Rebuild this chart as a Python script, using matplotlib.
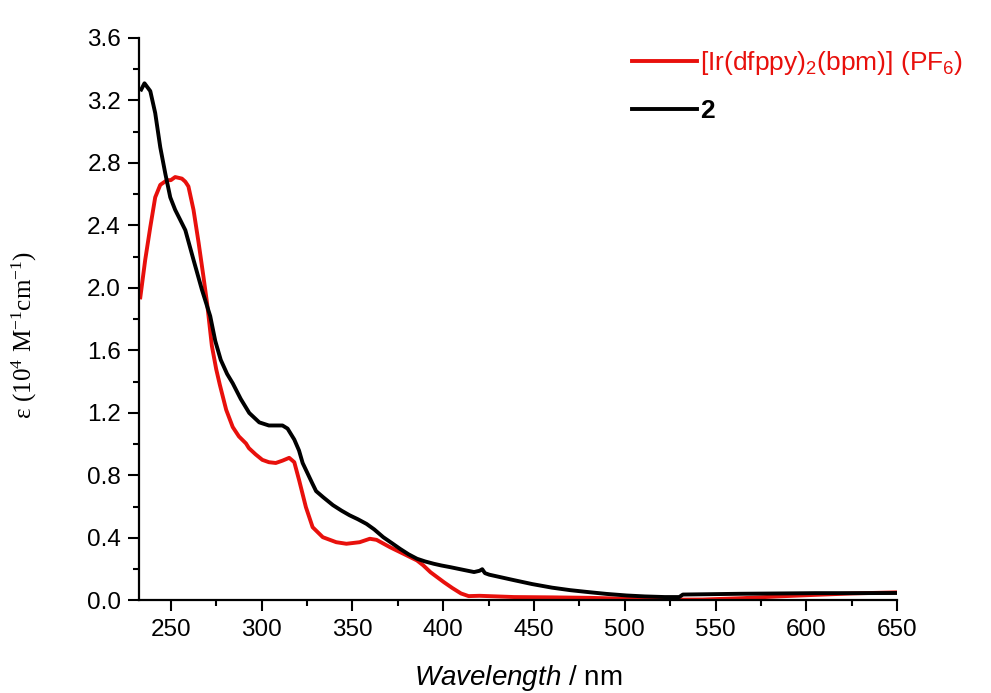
import matplotlib
matplotlib.use("Agg")
import matplotlib.pyplot as plt
from matplotlib.ticker import MultipleLocator
from matplotlib.lines import Line2D

plt.rcParams['font.family'] = ['Liberation Sans', 'DejaVu Sans']
plt.rcParams['mathtext.fontset'] = 'custom'
plt.rcParams['mathtext.rm'] = 'Liberation Serif'
plt.rcParams['mathtext.it'] = 'Liberation Sans:italic'
plt.rcParams['mathtext.sf'] = 'Liberation Sans'

# ---- data ----
black_wl = [233.7, 235.5, 238.7, 241.4, 244.2, 247, 249.7, 252.4, 255, 258, 262.5, 267.1,
            271.7, 274.5, 277.5, 281, 284.1, 288.5, 293.2, 298.7, 304, 311.5, 314.3, 318,
            320.6, 322.6, 327.9, 330, 334, 339.3, 344, 348.5, 353, 357.8, 362, 367, 372,
            376.3, 381, 385.6, 390, 394.8, 399, 404, 411.5, 417, 420, 421.5, 423, 425.4,
            432, 439, 449, 460, 470, 480.5, 490, 501, 511, 522, 530, 532, 545, 564, 585,
            605, 625, 650]
black_eps = [3.27, 3.31, 3.26, 3.12, 2.90, 2.73, 2.58, 2.50, 2.44, 2.37, 2.18, 1.99,
             1.82, 1.66, 1.54, 1.45, 1.39, 1.29, 1.20, 1.14, 1.12, 1.12, 1.10, 1.03,
             0.96, 0.88, 0.75, 0.70, 0.66, 0.61, 0.575, 0.545, 0.52, 0.49, 0.455, 0.405, 0.365,
             0.33, 0.295, 0.267, 0.25, 0.235, 0.224, 0.213, 0.195, 0.182, 0.19, 0.20, 0.175, 0.165,
             0.148, 0.13, 0.105, 0.082, 0.066, 0.053, 0.042, 0.032, 0.026, 0.022, 0.022, 0.038,
             0.040, 0.043, 0.045, 0.047, 0.047, 0.048]

red_wl = [233.2, 235.9, 238.7, 241.4, 244.2, 247.9, 250, 252.4, 256.1, 258, 259.7, 262.5,
          265.3, 268, 270, 272.6, 275, 277, 280.5, 284.1, 287.5, 291.4, 293, 296.7, 300.4,
          304, 307.8, 311.5, 315.2, 318, 320.7, 324.4, 328.1, 333.7, 341.1, 346.7, 354,
          359.6, 363.3, 370.7, 378.1, 385.6, 389, 393, 400.4, 405, 409.8, 414, 420, 439,
          460, 480.5, 501, 522, 542.8, 565, 584.4, 605, 625, 650]
red_eps = [1.94, 2.18, 2.39, 2.58, 2.66, 2.69, 2.69, 2.71, 2.70, 2.68, 2.65, 2.50,
           2.29, 2.07, 1.90, 1.63, 1.48, 1.38, 1.22, 1.11, 1.05, 1.005, 0.975, 0.935, 0.90,
           0.885, 0.88, 0.895, 0.913, 0.885, 0.768, 0.597, 0.469, 0.405, 0.373, 0.363, 0.373,
           0.395, 0.388, 0.341, 0.299, 0.256, 0.225, 0.181, 0.117, 0.08, 0.045, 0.028, 0.03, 0.022,
           0.02, 0.017, 0.011, 0.005, 0.006, 0.015, 0.026, 0.036, 0.045, 0.052]

labels = [r"[Ir(dfppy)$_\mathsf{2}$(bpm)] (PF$_\mathsf{6}$)", "2"]
x_ticks = [250, 300, 350, 400, 450, 500, 550, 600, 650]
y_ticks = [0.0, 0.4, 0.8, 1.2, 1.6, 2.0, 2.4, 2.8, 3.2, 3.6]

fig = plt.figure(figsize=(9.91, 6.93), dpi=100)
fig.patch.set_facecolor('white')
ax = fig.add_axes([0.1403, 0.1335, 0.765, 0.8117])

ax.plot(red_wl, red_eps, color='#e8100c', lw=2.8, solid_joinstyle='round')
ax.plot(black_wl, black_eps, color='black', lw=2.8, solid_joinstyle='round')

ax.set_xlim(232.5, 650)
ax.set_ylim(0, 3.6)
ax.set_xticks(x_ticks)
ax.set_yticks(y_ticks)
ax.set_yticklabels([f"{v:.1f}" for v in y_ticks])
ax.xaxis.set_minor_locator(MultipleLocator(25))
ax.yaxis.set_minor_locator(MultipleLocator(0.2))

for s in ['top', 'right']:
    ax.spines[s].set_visible(False)
for s in ['left', 'bottom']:
    ax.spines[s].set_linewidth(1.6)
ax.tick_params(which='major', direction='out', length=8, width=1.5, labelsize=17.5, pad=5)
ax.tick_params(which='minor', direction='out', length=4.5, width=1.5)

ax.set_xlabel(r"$\it{Wavelength}$ / nm", fontsize=20)
ax.xaxis.label.set_verticalalignment('center')
ax.xaxis.set_label_coords(0.5, -0.137)
ax.set_ylabel(r"$\mathrm{\epsilon\ (10^4\ M^{-1}cm^{-1})}$", fontsize=18)
ax.yaxis.set_label_coords(-0.132, 0.472)

handles = [Line2D([], [], color='#e8100c', lw=2.8), Line2D([], [], color='black', lw=2.8)]
leg = fig.legend(handles, labels, loc='upper left', bbox_to_anchor=(632 / 991, 1 - 49 / 693),
                 frameon=False, fontsize=19, handlelength=2.45, handletextpad=0.12,
                 borderpad=0, borderaxespad=0, labelspacing=0.85)
texts = leg.get_texts()
texts[0].set_color('#e8100c')
texts[1].set_color('black')
texts[1].set_fontweight('bold')

fig.savefig('out.png', dpi=100)
